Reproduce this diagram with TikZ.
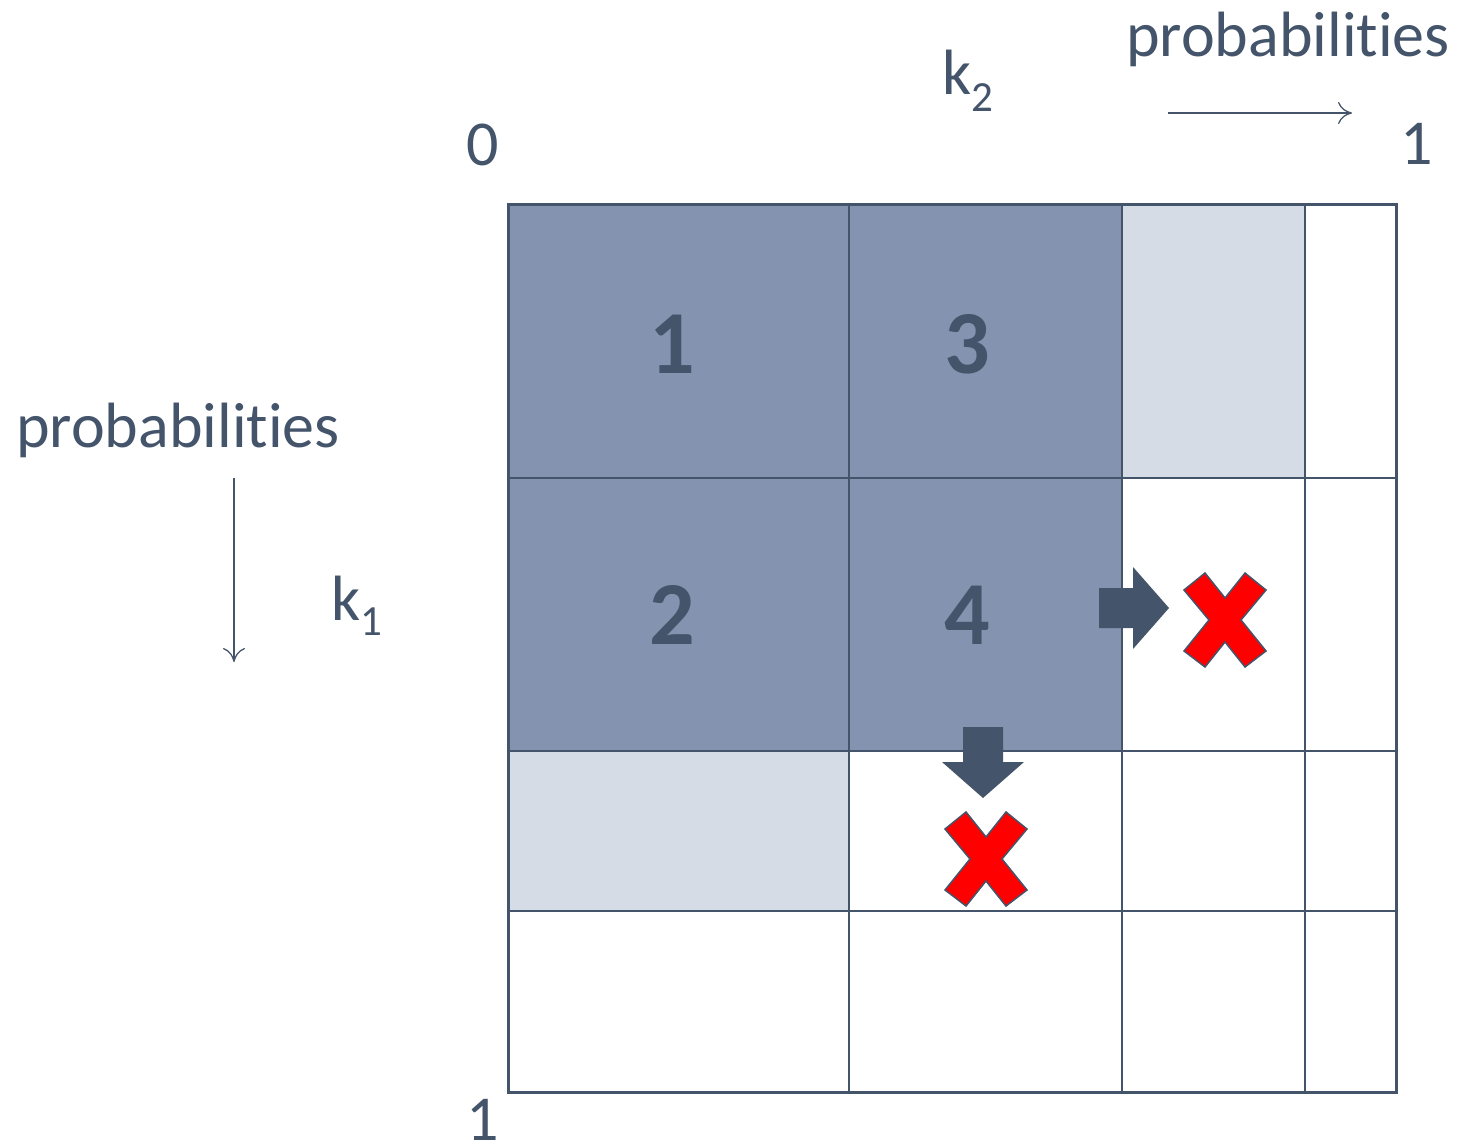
\documentclass[tikz,border=0pt]{standalone}
\usepackage{fontspec}
\setmainfont{Carlito}[Ligatures=CommonOff, RawFeature={-calt;-dlig}]
\definecolor{slate}{HTML}{44546A}
\definecolor{cellDark}{HTML}{8493AF}
\definecolor{cellLight}{HTML}{D6DCE5}
\definecolor{crossRed}{HTML}{FF0000}
% word set without the t-i ligature
\newcommand{\probword}{probabili\kern0pt ti\kern0pt es}
\tikzset{
  lbl/.style={inner sep=0pt, text=slate, font=\fontsize{64}{64}\selectfont},
  cellnum/.style={inner sep=0pt, text=slate, font=\fontsize{90}{90}\selectfont\bfseries},
  gridline/.style={draw=slate, line width=1.5pt},
  frame/.style={draw=slate, line width=3pt},
  axisarrow/.style={draw=slate, line width=1.3pt, -{To[length=14pt,width=22pt]}},
  blockarrow/.style={fill=slate, draw=none},
  redcross/.pic={
    \fill[crossRed, draw=slate, line width=1.5pt, line join=miter]
      (-41,-30) -- (-20,-47) -- (0,-22) -- (20,-47) -- (41,-30) -- (16,0)
      -- (41,31) -- (20,47) -- (0,22) -- (-20,47) -- (-41,31) -- (-16,0) -- cycle;
  }
}
\usetikzlibrary{arrows.meta}
\begin{document}
\begin{tikzpicture}[x=1pt, y=-1pt]
  \useasboundingbox (0,0) rectangle (1461,1147);

  % shaded cells
  \fill[cellDark]  (508,205) rectangle (1122,751);
  \fill[cellLight] (1122,205) rectangle (1305,478);
  \fill[cellLight] (508,751) rectangle (849,911);

  % grid lines
  \foreach \x in {849,1122,1305} \draw[gridline] (\x,205) -- (\x,1092);
  \foreach \y in {478,751,911} \draw[gridline] (508,\y) -- (1396,\y);
  \draw[frame] (508,205) rectangle (1396,1092);

  % cell labels
  \node[cellnum] (n1) at (672,344) {1};
  \node[cellnum] (n3) at (967,344) {3};
  \node[cellnum] (n2) at (672,615) {2};
  \node[cellnum] (n4) at (967,615) {4};

  % axis labels
  \node[lbl, anchor=base] (zero) at (483,166) {0};
  \node[lbl, anchor=base] (oneTop) at (1417,165) {1};
  \node[lbl, anchor=base] (oneBot) at (483,1140) {1};
  \node[lbl, anchor=base west] (probTop) at (1126,57) {\probword};
  \node[lbl, anchor=base west] (probLeft) at (16,447) {\probword};
  \node[lbl, anchor=base west] (kTwo) at (942,95)
    {k\raisebox{-17pt}{\fontsize{43}{43}\selectfont 2}};
  \node[lbl, anchor=base west] (kOne) at (331,620)
    {k\raisebox{-15pt}{\fontsize{43}{43}\selectfont 1}};

  % direction arrows along the axes
  \coordinate (hStart) at (1168,113);
  \coordinate (hEnd) at (1352,113);
  \coordinate (vStart) at (234,478);
  \coordinate (vEnd) at (234,662);
  \draw[axisarrow] (hStart) -- (hEnd);
  \draw[axisarrow] (vStart) -- (vEnd);

  % block arrows leaving cell 4
  \fill[blockarrow] (1099,588) -- (1133,588) -- (1133,567) -- (1169,608)
    -- (1133,649) -- (1133,628) -- (1099,628) -- cycle;
  \fill[blockarrow] (963,727) -- (1003,727) -- (1003,762) -- (1024,762)
    -- (983,798) -- (942,762) -- (963,762) -- cycle;

  % rejected neighbours
  \pic at (1225,620) {redcross};
  \pic at (986,859) {redcross};
\end{tikzpicture}
\end{document}
